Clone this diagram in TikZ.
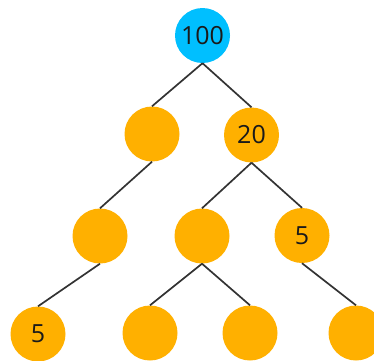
\documentclass[tikz,border=0pt]{standalone}
\usepackage{fontspec}
\setmainfont{Open Sans}
\definecolor{rootblue}{HTML}{00BFFF}
\definecolor{leaforange}{HTML}{FFB000}
\definecolor{txt}{HTML}{1A1A1A}
\definecolor{edgegray}{HTML}{333333}
\begin{document}
\begin{tikzpicture}[x=1pt,y=-1pt,
  tn/.style={circle,minimum size=55pt,inner sep=0pt,fill=leaforange,text=txt,font=\fontsize{25}{25}\selectfont},
  rootn/.style={tn,fill=rootblue},
  edge/.style={draw=edgegray,line width=1.7pt}]
\useasboundingbox (0,0) rectangle (374,360);
\node[rootn] (r) at (202.5,35.5) {100};
\node[tn] (a) at (152,134) {};
\node[tn] (b) at (251.5,135) {20};
\node[tn] (c) at (100,236) {};
\node[tn] (d) at (202,236) {};
\node[tn] (e) at (302,235.5) {5};
\node[tn] (f) at (38,334) {5};
\node[tn] (g) at (150,333) {};
\node[tn] (h) at (250,333) {};
\node[tn] (i) at (356,333) {};
\draw[edge] (r.south) -- (a.north) (r.south) -- (b.north)
  (a.south) -- (c.north) (b.south) -- (d.north) (b.south) -- (e.north)
  (c.south) -- (f.north) (d.south) -- (g.north) (d.south) -- (h.north)
  (e.south) -- (i.north);
\end{tikzpicture}
\end{document}
